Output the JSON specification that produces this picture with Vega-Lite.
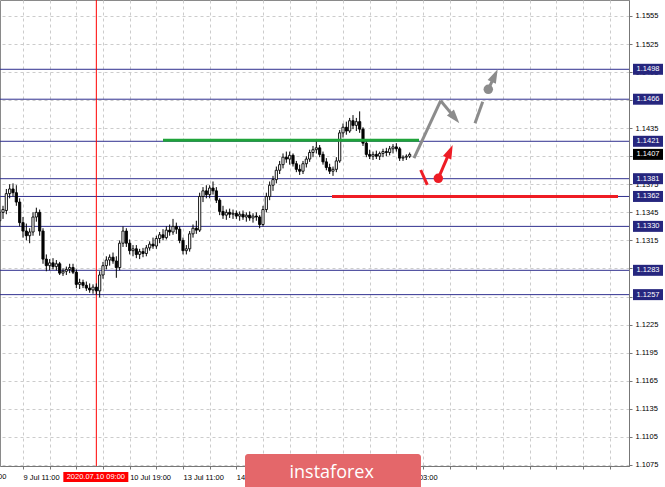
{
  "$schema": "https://vega.github.io/schema/vega-lite/v6.json",
  "width": 629,
  "height": 466,
  "autosize": {"type": "none"},
  "padding": {"left": 0, "top": 0, "right": 36, "bottom": 21},
  "background": "#ffffff",
  "config": {
    "view": {"stroke": "#8a8a8a", "strokeWidth": 1},
    "scale": {"continuousPadding": 0},
    "axis": {
      "labelFont": "Liberation Sans",
      "labelFontSize": 7.5,
      "labelColor": "#000000",
      "domainColor": "#777777",
      "tickColor": "#777777",
      "tickSize": 3,
      "gridColor": "#cccccc",
      "gridDash": [3, 3],
      "gridWidth": 1,
      "labelOverlap": false,
      "labelBound": false,
      "labelFlush": false
    }
  },
  "datasets": {
    "candles": [
      {"i":-7,"o":1.1336,"h":1.1348,"l":1.1330,"c":1.1345},
      {"i":-6,"o":1.1345,"h":1.1352,"l":1.1338,"c":1.1348},
      {"i":-5,"o":1.1347,"h":1.1370,"l":1.1343,"c":1.1365},
      {"i":-4,"o":1.1365,"h":1.1375,"l":1.1360,"c":1.1370},
      {"i":-3,"o":1.1370,"h":1.1376,"l":1.1362,"c":1.1366},
      {"i":-2,"o":1.1366,"h":1.1374,"l":1.1352,"c":1.1356},
      {"i":-1,"o":1.1356,"h":1.1360,"l":1.1330,"c":1.1334},
      {"i":0,"o":1.1334,"h":1.1340,"l":1.1318,"c":1.1325},
      {"i":1,"o":1.1325,"h":1.1333,"l":1.1315,"c":1.1320},
      {"i":2,"o":1.1320,"h":1.1328,"l":1.1312,"c":1.1324},
      {"i":3,"o":1.1324,"h":1.1345,"l":1.1320,"c":1.1340},
      {"i":4,"o":1.1340,"h":1.1350,"l":1.1335,"c":1.1345},
      {"i":5,"o":1.1345,"h":1.1348,"l":1.1320,"c":1.1325},
      {"i":6,"o":1.1325,"h":1.1328,"l":1.1290,"c":1.1295},
      {"i":7,"o":1.1295,"h":1.1300,"l":1.1282,"c":1.1288},
      {"i":8,"o":1.1288,"h":1.1295,"l":1.1283,"c":1.1291},
      {"i":9,"o":1.1291,"h":1.1296,"l":1.1284,"c":1.1287},
      {"i":10,"o":1.1287,"h":1.1294,"l":1.1283,"c":1.1290},
      {"i":11,"o":1.1290,"h":1.1292,"l":1.1278,"c":1.1280},
      {"i":12,"o":1.1280,"h":1.1285,"l":1.1277,"c":1.1282},
      {"i":13,"o":1.1282,"h":1.1287,"l":1.1278,"c":1.1284},
      {"i":14,"o":1.1284,"h":1.1290,"l":1.1280,"c":1.1286},
      {"i":15,"o":1.1286,"h":1.1290,"l":1.1279,"c":1.1281},
      {"i":16,"o":1.1281,"h":1.1284,"l":1.1264,"c":1.1268},
      {"i":17,"o":1.1268,"h":1.1274,"l":1.1263,"c":1.1270},
      {"i":18,"o":1.1270,"h":1.1273,"l":1.1264,"c":1.1267},
      {"i":19,"o":1.1267,"h":1.1271,"l":1.1261,"c":1.1264},
      {"i":20,"o":1.1264,"h":1.1269,"l":1.1259,"c":1.1262},
      {"i":21,"o":1.1262,"h":1.1268,"l":1.1258,"c":1.1265},
      {"i":22,"o":1.1265,"h":1.1269,"l":1.1257,"c":1.1261},
      {"i":23,"o":1.1261,"h":1.1282,"l":1.1254,"c":1.1278},
      {"i":24,"o":1.1278,"h":1.1292,"l":1.1274,"c":1.1288},
      {"i":25,"o":1.1288,"h":1.1298,"l":1.1284,"c":1.1294},
      {"i":26,"o":1.1294,"h":1.1300,"l":1.1288,"c":1.1297},
      {"i":27,"o":1.1297,"h":1.1302,"l":1.1290,"c":1.1293},
      {"i":28,"o":1.1293,"h":1.1298,"l":1.1275,"c":1.1286},
      {"i":29,"o":1.1286,"h":1.1315,"l":1.1283,"c":1.1312},
      {"i":30,"o":1.1312,"h":1.1330,"l":1.1308,"c":1.1325},
      {"i":31,"o":1.1325,"h":1.1328,"l":1.1308,"c":1.1312},
      {"i":32,"o":1.1312,"h":1.1316,"l":1.1300,"c":1.1304},
      {"i":33,"o":1.1304,"h":1.1310,"l":1.1298,"c":1.1306},
      {"i":34,"o":1.1306,"h":1.1310,"l":1.1296,"c":1.1300},
      {"i":35,"o":1.1300,"h":1.1306,"l":1.1295,"c":1.1303},
      {"i":36,"o":1.1303,"h":1.1307,"l":1.1297,"c":1.1301},
      {"i":37,"o":1.1301,"h":1.1310,"l":1.1298,"c":1.1307},
      {"i":38,"o":1.1307,"h":1.1314,"l":1.1304,"c":1.1311},
      {"i":39,"o":1.1311,"h":1.1318,"l":1.1306,"c":1.1309},
      {"i":40,"o":1.1309,"h":1.1320,"l":1.1306,"c":1.1317},
      {"i":41,"o":1.1317,"h":1.1324,"l":1.1312,"c":1.1321},
      {"i":42,"o":1.1321,"h":1.1327,"l":1.1315,"c":1.1318},
      {"i":43,"o":1.1318,"h":1.1330,"l":1.1316,"c":1.1326},
      {"i":44,"o":1.1326,"h":1.1332,"l":1.1320,"c":1.1324},
      {"i":45,"o":1.1324,"h":1.1338,"l":1.1321,"c":1.1330},
      {"i":46,"o":1.1330,"h":1.1334,"l":1.1322,"c":1.1327},
      {"i":47,"o":1.1327,"h":1.1330,"l":1.1312,"c":1.1315},
      {"i":48,"o":1.1315,"h":1.1318,"l":1.1300,"c":1.1304},
      {"i":49,"o":1.1304,"h":1.1310,"l":1.1300,"c":1.1306},
      {"i":50,"o":1.1306,"h":1.1325,"l":1.1303,"c":1.1322},
      {"i":51,"o":1.1322,"h":1.1332,"l":1.1318,"c":1.1328},
      {"i":52,"o":1.1328,"h":1.1336,"l":1.1322,"c":1.1326},
      {"i":53,"o":1.1326,"h":1.1366,"l":1.1324,"c":1.1362},
      {"i":54,"o":1.1362,"h":1.1372,"l":1.1356,"c":1.1368},
      {"i":55,"o":1.1368,"h":1.1374,"l":1.1360,"c":1.1364},
      {"i":56,"o":1.1364,"h":1.1374,"l":1.1360,"c":1.1371},
      {"i":57,"o":1.1371,"h":1.1378,"l":1.1364,"c":1.1368},
      {"i":58,"o":1.1368,"h":1.1372,"l":1.1355,"c":1.1358},
      {"i":59,"o":1.1358,"h":1.1360,"l":1.1342,"c":1.1346},
      {"i":60,"o":1.1346,"h":1.1352,"l":1.1338,"c":1.1342},
      {"i":61,"o":1.1342,"h":1.1348,"l":1.1337,"c":1.1345},
      {"i":62,"o":1.1345,"h":1.1349,"l":1.1339,"c":1.1343},
      {"i":63,"o":1.1343,"h":1.1348,"l":1.1338,"c":1.1344},
      {"i":64,"o":1.1344,"h":1.1347,"l":1.1338,"c":1.1341},
      {"i":65,"o":1.1341,"h":1.1346,"l":1.1336,"c":1.1343},
      {"i":66,"o":1.1343,"h":1.1347,"l":1.1337,"c":1.1340},
      {"i":67,"o":1.1340,"h":1.1345,"l":1.1335,"c":1.1342},
      {"i":68,"o":1.1342,"h":1.1346,"l":1.1336,"c":1.1339},
      {"i":69,"o":1.1339,"h":1.1344,"l":1.1334,"c":1.1341},
      {"i":70,"o":1.1341,"h":1.1345,"l":1.1336,"c":1.1340},
      {"i":71,"o":1.1340,"h":1.1342,"l":1.1328,"c":1.1332},
      {"i":72,"o":1.1332,"h":1.1352,"l":1.1330,"c":1.1348},
      {"i":73,"o":1.1348,"h":1.1366,"l":1.1345,"c":1.1362},
      {"i":74,"o":1.1362,"h":1.1378,"l":1.1358,"c":1.1374},
      {"i":75,"o":1.1374,"h":1.1384,"l":1.1368,"c":1.1380},
      {"i":76,"o":1.1380,"h":1.1394,"l":1.1376,"c":1.1390},
      {"i":77,"o":1.1390,"h":1.1400,"l":1.1386,"c":1.1396},
      {"i":78,"o":1.1396,"h":1.1408,"l":1.1392,"c":1.1404},
      {"i":79,"o":1.1404,"h":1.1410,"l":1.1398,"c":1.1402},
      {"i":80,"o":1.1402,"h":1.1410,"l":1.1396,"c":1.1406},
      {"i":81,"o":1.1406,"h":1.1408,"l":1.1394,"c":1.1397},
      {"i":82,"o":1.1397,"h":1.1400,"l":1.1388,"c":1.1391},
      {"i":83,"o":1.1391,"h":1.1396,"l":1.1385,"c":1.1389},
      {"i":84,"o":1.1389,"h":1.1400,"l":1.1386,"c":1.1397},
      {"i":85,"o":1.1397,"h":1.1405,"l":1.1393,"c":1.1402},
      {"i":86,"o":1.1402,"h":1.1412,"l":1.1399,"c":1.1409},
      {"i":87,"o":1.1409,"h":1.1416,"l":1.1404,"c":1.1412},
      {"i":88,"o":1.1412,"h":1.1422,"l":1.1408,"c":1.1414},
      {"i":89,"o":1.1414,"h":1.1417,"l":1.1404,"c":1.1407},
      {"i":90,"o":1.1407,"h":1.1410,"l":1.1396,"c":1.1399},
      {"i":91,"o":1.1399,"h":1.1403,"l":1.1390,"c":1.1393},
      {"i":92,"o":1.1393,"h":1.1397,"l":1.1386,"c":1.1389},
      {"i":93,"o":1.1389,"h":1.1394,"l":1.1384,"c":1.1391},
      {"i":94,"o":1.1391,"h":1.1404,"l":1.1388,"c":1.1400},
      {"i":95,"o":1.1400,"h":1.1433,"l":1.1398,"c":1.1430},
      {"i":96,"o":1.1430,"h":1.1440,"l":1.1425,"c":1.1436},
      {"i":97,"o":1.1436,"h":1.1442,"l":1.1428,"c":1.1432},
      {"i":98,"o":1.1432,"h":1.1446,"l":1.1430,"c":1.1443},
      {"i":99,"o":1.1443,"h":1.1449,"l":1.1434,"c":1.1438},
      {"i":100,"o":1.1438,"h":1.1446,"l":1.1432,"c":1.1442},
      {"i":101,"o":1.1442,"h":1.1453,"l":1.1430,"c":1.1434},
      {"i":102,"o":1.1434,"h":1.1436,"l":1.1416,"c":1.1419},
      {"i":103,"o":1.1419,"h":1.1422,"l":1.1404,"c":1.1407},
      {"i":104,"o":1.1407,"h":1.1412,"l":1.1402,"c":1.1405},
      {"i":105,"o":1.1405,"h":1.1410,"l":1.1401,"c":1.1407},
      {"i":106,"o":1.1407,"h":1.1411,"l":1.1402,"c":1.1405},
      {"i":107,"o":1.1405,"h":1.1410,"l":1.1401,"c":1.1408},
      {"i":108,"o":1.1408,"h":1.1413,"l":1.1404,"c":1.1410},
      {"i":109,"o":1.1410,"h":1.1414,"l":1.1405,"c":1.1409},
      {"i":110,"o":1.1409,"h":1.1416,"l":1.1406,"c":1.1413},
      {"i":111,"o":1.1413,"h":1.1418,"l":1.1408,"c":1.1415},
      {"i":112,"o":1.1415,"h":1.1419,"l":1.1410,"c":1.1413},
      {"i":113,"o":1.1413,"h":1.1415,"l":1.1400,"c":1.1403},
      {"i":114,"o":1.1403,"h":1.1406,"l":1.1400,"c":1.1404},
      {"i":115,"o":1.1404,"h":1.1407,"l":1.1401,"c":1.1405},
      {"i":116,"o":1.1405,"h":1.1409,"l":1.1403,"c":1.1407}
    ],
    "levels": [
      {"p":1.1498},{"p":1.1466},{"p":1.1421},{"p":1.1381},
      {"p":1.1362},{"p":1.1330},{"p":1.1283},{"p":1.1257}
    ],
    "hsegs": [
      {"kind":"resistance","x1":42.0,"x2":118.8,"p":1.1422},
      {"kind":"support","x1":92.7,"x2":178.5,"p":1.1362}
    ],
    "arrows": [
      {"kind":"main","x1":117.3,"y1":1.14031,"x2":125.31,"y2":1.14644},
      {"kind":"main","x1":125.31,"y1":1.14644,"x2":129.56,"y2":1.14460},
      {"kind":"main","x1":135.6,"y1":1.14402,"x2":137.91,"y2":1.14633},
      {"kind":"main","x1":139.59,"y1":1.14766,"x2":141.51,"y2":1.14913},
      {"kind":"alt","x1":119.31,"y1":1.13903,"x2":121.29,"y2":1.13743},
      {"kind":"alt","x1":124.59,"y1":1.13814,"x2":128.07,"y2":1.14102}
    ],
    "circles": [
      {"kind":"main","x":139.59,"y":1.14766},
      {"kind":"alt","x":124.59,"y":1.13814}
    ],
    "heads": [
      {"name":"main1","kind":"main","x":129.56,"y":1.14460},
      {"name":"main2","kind":"main","x":141.51,"y":1.14913},
      {"name":"alt1","kind":"alt","x":128.07,"y":1.14102}
    ]
  },
  "layer": [
    {
      "data": {"name": "levels"},
      "mark": {"type": "rule", "color": "#30308f", "strokeWidth": 1},
      "encoding": {
        "y": {
          "field": "p", "type": "quantitative",
          "scale": {"domain": [1.107372, 1.157211], "nice": false, "zero": false, "padding": 0},
          "axis": {
            "orient": "right",
            "title": null,
            "values": [1.1075,1.1105,1.1135,1.1165,1.1195,1.1225,1.1255,1.1285,1.1315,1.1345,1.1375,1.1405,1.1435,1.1465,1.1495,1.1525,1.1555],
            "tickCount": 200,
            "format": ".4f",
            "labelPadding": 3,
            "labelOverlap": false,
            "labelBound": false,
            "grid": true
          }
        }
      }
    },
    {
      "data": {"values": [{}]},
      "mark": {"type": "rule", "color": "#ff0000", "strokeWidth": 1},
      "encoding": {
        "x": {"datum": 22, "type": "quantitative", "scale": {"domain": [-6.9, 181.8], "nice": false, "zero": false, "padding": 0}}
      }
    },
    {
      "data": {"name": "candles"},
      "mark": {"type": "rule", "color": "#000000", "strokeWidth": 1},
      "encoding": {
        "x": {
          "field": "i", "type": "quantitative",
          "scale": {"domain": [-6.9, 181.8], "nice": false, "zero": false, "padding": 0},
          "axis": {
            "orient": "bottom",
            "title": null,
            "values": [0,8,16,24,32,40,48,56,64,72,80,88,96,104,112,120,128,136,144,152,160,168,176],
            "tickCount": 200,
            "labelExpr": "datum.value == 0 ? '9 Jul 11:00' : datum.value == 32 ? '10 Jul 19:00' : datum.value == 48 ? '13 Jul 11:00' : datum.value == 64 ? '14 Jul 03:00' : datum.value == 112 ? '16 Jul 03:00' : ''",
            "labelAlign": "left",
            "labelBaseline": "top",
            "labelPadding": 4,
            "labelOverlap": false,
            "labelBound": false,
            "labelFlush": false,
            "grid": true
          }
        },
        "y": {"field": "l", "type": "quantitative", "scale": {"domain": [1.107372, 1.157211], "nice": false, "zero": false, "padding": 0}},
        "y2": {"field": "h"}
      }
    },
    {
      "data": {"name": "candles"},
      "mark": {"type": "bar", "width": 2.2, "stroke": "#000000", "strokeWidth": 0.9},
      "encoding": {
        "x": {"field": "i", "type": "quantitative", "scale": {"domain": [-6.9, 181.8], "nice": false, "zero": false, "padding": 0}},
        "y": {"field": "o", "type": "quantitative", "scale": {"domain": [1.107372, 1.157211], "nice": false, "zero": false, "padding": 0}},
        "y2": {"field": "c"},
        "fill": {"condition": {"test": "datum.c >= datum.o", "value": "#ffffff"}, "value": "#000000"}
      }
    },
    {
      "data": {"name": "hsegs"},
      "mark": {"type": "rule", "strokeWidth": 3},
      "encoding": {
        "x": {"field": "x1", "type": "quantitative", "scale": {"domain": [-6.9, 181.8], "nice": false, "zero": false, "padding": 0}},
        "x2": {"field": "x2"},
        "y": {"field": "p", "type": "quantitative", "scale": {"domain": [1.107372, 1.157211], "nice": false, "zero": false, "padding": 0}},
        "color": {"field": "kind", "type": "nominal", "scale": {"domain": ["resistance","support","main","alt"], "range": ["#1fa33a","#ef1c24","#8c8c8c","#ee1c25"]}, "legend": null}
      }
    },
    {
      "data": {"name": "arrows"},
      "mark": {"type": "rule", "strokeWidth": 3, "strokeCap": "butt"},
      "encoding": {
        "x": {"field": "x1", "type": "quantitative", "scale": {"domain": [-6.9, 181.8], "nice": false, "zero": false, "padding": 0}},
        "x2": {"field": "x2"},
        "y": {"field": "y1", "type": "quantitative", "scale": {"domain": [1.107372, 1.157211], "nice": false, "zero": false, "padding": 0}},
        "y2": {"field": "y2"},
        "color": {"field": "kind", "type": "nominal", "scale": {"domain": ["resistance","support","main","alt"], "range": ["#1fa33a","#ef1c24","#8c8c8c","#ee1c25"]}, "legend": null}
      }
    },
    {
      "data": {"name": "circles"},
      "mark": {"type": "point", "shape": "circle", "filled": true, "size": 90, "opacity": 1},
      "encoding": {
        "x": {"field": "x", "type": "quantitative", "scale": {"domain": [-6.9, 181.8], "nice": false, "zero": false, "padding": 0}},
        "y": {"field": "y", "type": "quantitative", "scale": {"domain": [1.107372, 1.157211], "nice": false, "zero": false, "padding": 0}},
        "color": {"field": "kind", "type": "nominal", "scale": {"domain": ["resistance","support","main","alt"], "range": ["#1fa33a","#ef1c24","#8c8c8c","#ee1c25"]}, "legend": null}
      }
    },
    {
      "data": {"name": "heads"},
      "transform": [{"filter": "datum.name == 'main1'"}],
      "mark": {"type": "point", "shape": "M0,-1L0.65,1L-0.65,1Z", "filled": true, "size": 196, "angle": 140.5, "opacity": 1},
      "encoding": {
        "x": {"field": "x", "type": "quantitative", "scale": {"domain": [-6.9, 181.8], "nice": false, "zero": false, "padding": 0}},
        "y": {"field": "y", "type": "quantitative", "scale": {"domain": [1.107372, 1.157211], "nice": false, "zero": false, "padding": 0}},
        "color": {"field": "kind", "type": "nominal", "scale": {"domain": ["resistance","support","main","alt"], "range": ["#1fa33a","#ef1c24","#8c8c8c","#ee1c25"]}, "legend": null}
      }
    },
    {
      "data": {"name": "heads"},
      "transform": [{"filter": "datum.name == 'main2'"}],
      "mark": {"type": "point", "shape": "M0,-1L0.65,1L-0.65,1Z", "filled": true, "size": 196, "angle": 25.2, "opacity": 1},
      "encoding": {
        "x": {"field": "x", "type": "quantitative", "scale": {"domain": [-6.9, 181.8], "nice": false, "zero": false, "padding": 0}},
        "y": {"field": "y", "type": "quantitative", "scale": {"domain": [1.107372, 1.157211], "nice": false, "zero": false, "padding": 0}},
        "color": {"field": "kind", "type": "nominal", "scale": {"domain": ["resistance","support","main","alt"], "range": ["#1fa33a","#ef1c24","#8c8c8c","#ee1c25"]}, "legend": null}
      }
    },
    {
      "data": {"name": "heads"},
      "transform": [{"filter": "datum.name == 'alt1'"}],
      "mark": {"type": "point", "shape": "M0,-1L0.65,1L-0.65,1Z", "filled": true, "size": 196, "angle": 23.4, "opacity": 1},
      "encoding": {
        "x": {"field": "x", "type": "quantitative", "scale": {"domain": [-6.9, 181.8], "nice": false, "zero": false, "padding": 0}},
        "y": {"field": "y", "type": "quantitative", "scale": {"domain": [1.107372, 1.157211], "nice": false, "zero": false, "padding": 0}},
        "color": {"field": "kind", "type": "nominal", "scale": {"domain": ["resistance","support","main","alt"], "range": ["#1fa33a","#ef1c24","#8c8c8c","#ee1c25"]}, "legend": null}
      }
    },
    {
      "data": {"name": "levels"},
      "mark": {"type": "tick", "orient": "horizontal", "color": "#26267e", "size": 30, "thickness": 11, "opacity": 1},
      "encoding": {
        "x": {"datum": 187.5, "type": "quantitative", "scale": {"domain": [-6.9, 181.8], "nice": false, "zero": false, "padding": 0}},
        "y": {"field": "p", "type": "quantitative", "scale": {"domain": [1.107372, 1.157211], "nice": false, "zero": false, "padding": 0}}
      }
    },
    {
      "data": {"name": "levels"},
      "mark": {"type": "text", "color": "#ffffff", "font": "Liberation Sans", "fontSize": 7.5, "align": "center", "baseline": "middle"},
      "encoding": {
        "x": {"datum": 187.5, "type": "quantitative", "scale": {"domain": [-6.9, 181.8], "nice": false, "zero": false, "padding": 0}},
        "y": {"field": "p", "type": "quantitative", "scale": {"domain": [1.107372, 1.157211], "nice": false, "zero": false, "padding": 0}},
        "text": {"field": "p", "type": "quantitative", "format": ".4f"}
      }
    },
    {
      "data": {"values": [{"p": 1.1407}]},
      "mark": {"type": "tick", "orient": "horizontal", "color": "#000000", "size": 30, "thickness": 11, "opacity": 1},
      "encoding": {
        "x": {"datum": 187.5, "type": "quantitative", "scale": {"domain": [-6.9, 181.8], "nice": false, "zero": false, "padding": 0}},
        "y": {"field": "p", "type": "quantitative", "scale": {"domain": [1.107372, 1.157211], "nice": false, "zero": false, "padding": 0}}
      }
    },
    {
      "data": {"values": [{"p": 1.1407}]},
      "mark": {"type": "text", "color": "#ffffff", "font": "Liberation Sans", "fontSize": 7.5, "align": "center", "baseline": "middle"},
      "encoding": {
        "x": {"datum": 187.5, "type": "quantitative", "scale": {"domain": [-6.9, 181.8], "nice": false, "zero": false, "padding": 0}},
        "y": {"field": "p", "type": "quantitative", "scale": {"domain": [1.107372, 1.157211], "nice": false, "zero": false, "padding": 0}},
        "text": {"field": "p", "type": "quantitative", "format": ".4f"}
      }
    },
    {
      "data": {"values": [{}]},
      "mark": {"type": "text", "color": "#000000", "font": "Liberation Sans", "fontSize": 7.5, "align": "left", "baseline": "middle", "text": "8 Jul 19:00"},
      "encoding": {
        "x": {"datum": -16, "type": "quantitative", "scale": {"domain": [-6.9, 181.8], "nice": false, "zero": false, "padding": 0}},
        "y": {"datum": 1.10620, "type": "quantitative", "scale": {"domain": [1.107372, 1.157211], "nice": false, "zero": false, "padding": 0}}
      }
    },
    {
      "data": {"values": [{}]},
      "mark": {"type": "rect", "color": "#ff0000"},
      "encoding": {
        "x": {"datum": 12.1, "type": "quantitative", "scale": {"domain": [-6.9, 181.8], "nice": false, "zero": false, "padding": 0}},
        "x2": {"datum": 31.6},
        "y": {"datum": 1.10673, "type": "quantitative", "scale": {"domain": [1.107372, 1.157211], "nice": false, "zero": false, "padding": 0}},
        "y2": {"datum": 1.10566}
      }
    },
    {
      "data": {"values": [{}]},
      "mark": {"type": "text", "color": "#ffffff", "font": "Liberation Sans", "fontSize": 7.5, "align": "center", "baseline": "middle", "text": "2020.07.10 09:00"},
      "encoding": {
        "x": {"datum": 21.85, "type": "quantitative", "scale": {"domain": [-6.9, 181.8], "nice": false, "zero": false, "padding": 0}},
        "y": {"datum": 1.10620, "type": "quantitative", "scale": {"domain": [1.107372, 1.157211], "nice": false, "zero": false, "padding": 0}}
      }
    },
    {
      "data": {"values": [{}]},
      "mark": {"type": "rect", "color": "#e4676a", "cornerRadius": 3},
      "encoding": {
        "x": {"datum": 66.6, "type": "quantitative", "scale": {"domain": [-6.9, 181.8], "nice": false, "zero": false, "padding": 0}},
        "x2": {"datum": 119.4},
        "y": {"datum": 1.10866, "type": "quantitative", "scale": {"domain": [1.107372, 1.157211], "nice": false, "zero": false, "padding": 0}},
        "y2": {"datum": 1.1040}
      }
    },
    {
      "data": {"values": [{}]},
      "mark": {"type": "text", "color": "#ffffff", "font": "Open Sans", "fontSize": 18, "align": "center", "baseline": "alphabetic", "text": "instaforex"},
      "encoding": {
        "x": {"datum": 92.6, "type": "quantitative", "scale": {"domain": [-6.9, 181.8], "nice": false, "zero": false, "padding": 0}},
        "y": {"datum": 1.10609, "type": "quantitative", "scale": {"domain": [1.107372, 1.157211], "nice": false, "zero": false, "padding": 0}}
      }
    }
  ]
}
